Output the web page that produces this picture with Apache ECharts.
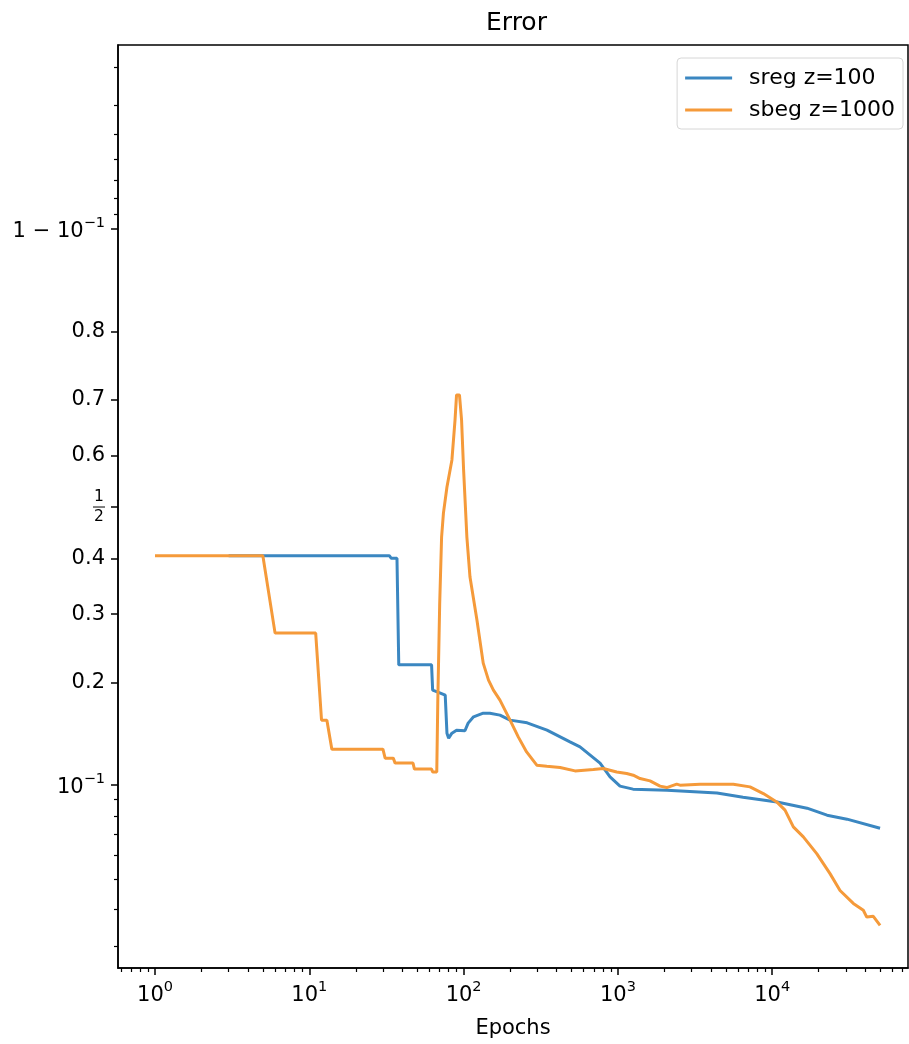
<!DOCTYPE html>
<html>
<head>
<meta charset="utf-8">
<script src="https://cdn.jsdelivr.net/npm/echarts@6/dist/echarts.min.js"></script>
<style>
  html, body { margin: 0; padding: 0; background: #ffffff; }
  #chart { width: 909px; height: 1044px; }
</style>
</head>
<body>
<div id="chart"></div>
<script>
// Training error per epoch for the two runs
const epochsSreg = [3, 33, 34, 37, 38, 62, 63, 70, 76, 78, 80, 84, 90, 102, 107, 116, 134, 148, 172, 200,
  258, 347, 489, 568, 766, 889, 1032, 1253, 2081, 4389, 6469, 10743, 16810, 22660, 30530, 50000];
const errorSreg = [0.405, 0.405, 0.400, 0.400, 0.223, 0.223, 0.1903, 0.1871, 0.1843, 0.1433, 0.1385, 0.1433,
  0.1462, 0.1456, 0.1533, 0.1599, 0.1638, 0.1638, 0.1617, 0.1564, 0.1536, 0.1462, 0.1350, 0.1305, 0.1166,
  0.1058, 0.0991, 0.0970, 0.0963, 0.0944, 0.0916, 0.0885, 0.0846, 0.0804, 0.0781, 0.0731];

const epochsSbeg = [1, 5, 6, 11, 12, 13, 14, 30, 31, 35, 36, 47, 48, 62, 63, 67, 68, 70, 72, 74,
  78, 84, 88, 90, 94, 97, 100, 105, 110, 122, 134, 145, 156, 172, 200, 226, 256, 298, 346, 422,
  527, 693, 804, 982, 1140, 1257, 1391, 1615, 1875, 2072, 2405, 2527, 3405, 5596, 7180, 8757, 10695, 12105,
  13704, 15910, 19430, 23690, 27510, 33540, 38950, 40990, 45210, 50000];
const errorSbeg = [0.405, 0.405, 0.2695, 0.2695, 0.1564, 0.1564, 0.1284, 0.1284, 0.1207, 0.1207,
  0.1166, 0.1166, 0.1118, 0.1118, 0.1096, 0.1096, 0.175, 0.3187, 0.4409, 0.488,
  0.5394, 0.5919, 0.6656, 0.7081, 0.7081, 0.6656, 0.5727, 0.4409, 0.365, 0.2903,
  0.2254, 0.2028, 0.1903, 0.1784, 0.1564, 0.1397, 0.126, 0.1149, 0.1141, 0.1131,
  0.1104, 0.1115, 0.1123, 0.1096, 0.1084, 0.1071, 0.1046, 0.1029, 0.0991, 0.0981,
  0.1005, 0.0998, 0.1005, 0.1005, 0.0986, 0.094, 0.0885, 0.0834, 0.0738, 0.0686,
  0.0606, 0.0522, 0.046, 0.0417, 0.0396, 0.0376, 0.0378, 0.0353];

const seriesNames = ['sreg z=100', 'sbeg z=1000'];
const seriesColors = ['#3b87c1', '#f59a3a'];

// Logit-scale y ticks (probabilities) and their labels
const yMajorTicks = [0.1, 0.2, 0.3, 0.4, 0.5, 0.6, 0.7, 0.8, 0.9];
const yMajorLabels = ['{b|10}{s|−1}', '{p|0.2}', '{p|0.3}', '{p|0.4}', '{f|1}\n{bar|}\n{f|2}',
  '{p|0.6}', '{p|0.7}', '{p|0.8}', '{b|1 − 10}{s|−1}'];
const yMinorTicks = [0.03, 0.04, 0.05, 0.06, 0.07, 0.08, 0.09, 0.91, 0.92, 0.93, 0.94, 0.95, 0.96, 0.97];
const yRange = [0.02545, 0.97475];

// Log-scale x ticks (epochs)
const xMajorExponents = [0, 1, 2, 3, 4];
const xRange = [0.5757, 75860];

const logit = p => Math.log10(p / (1 - p));
const lg = v => Math.log10(v);

const xMinorTicks = [];
for (let d = -1; d <= 4; d++) {
  for (let k = 2; k <= 9; k++) {
    const v = k * Math.pow(10, d);
    if (v > xRange[0] && v < xRange[1]) xMinorTicks.push(lg(v));
  }
}

const toPairs = (xs, ys) => xs.map((e, i) => [lg(e), logit(ys[i])]);

const FONT = 'DejaVu Sans';
const richText = {
  p: { fontSize: 21, fontFamily: FONT, color: '#000' },
  b: { fontSize: 21, fontFamily: FONT, color: '#000', verticalAlign: 'bottom', lineHeight: 26 },
  s: { fontSize: 14.5, fontFamily: FONT, color: '#000', verticalAlign: 'top', lineHeight: 26, padding: [0, 0, 10, 0] },
  f: { fontSize: 15.5, fontFamily: FONT, color: '#000', width: 12, align: 'center', lineHeight: 14 },
  bar: { width: 12, height: 1, backgroundColor: '#000', lineHeight: 6 }
};

const yMajorVals = yMajorTicks.map(logit);
const nearestIndex = (arr, v) => {
  let best = 0;
  arr.forEach((a, i) => { if (Math.abs(a - v) < Math.abs(arr[best] - v)) best = i; });
  return best;
};

const chart = echarts.init(document.getElementById('chart'), null, { renderer: 'canvas' });

chart.setOption({
  animation: false,
  backgroundColor: '#ffffff',
  title: {
    text: 'Error',
    left: 486,
    top: 11,
    padding: 0,
    textStyle: { fontFamily: FONT, fontSize: 25, fontWeight: 'normal', color: '#000' }
  },
  legend: {
    data: seriesNames,
    orient: 'vertical',
    right: 6,
    top: 58,
    align: 'left',
    icon: 'rect',
    itemWidth: 47,
    itemHeight: 3,
    itemGap: 10,
    padding: [9, 8, 8, 8],
    backgroundColor: 'rgba(255,255,255,0.8)',
    borderColor: '#d6d6d6',
    borderWidth: 1,
    borderRadius: 4,
    textStyle: { fontFamily: FONT, fontSize: 22, color: '#000', padding: [0, 0, 0, 12] }
  },
  grid: {
    left: 118, right: 1, top: 45, bottom: 76,
    show: true, borderColor: '#000', borderWidth: 1.5, backgroundColor: 'transparent'
  },
  xAxis: [
    {
      type: 'value',
      min: lg(xRange[0]),
      max: lg(xRange[1]),
      name: 'Epochs',
      nameLocation: 'middle',
      nameGap: 50,
      nameTextStyle: { fontFamily: FONT, fontSize: 21, color: '#000' },
      axisLine: { show: true, onZero: false, lineStyle: { color: '#000', width: 1.5 } },
      splitLine: { show: false },
      axisTick: { show: true, length: 7, lineStyle: { color: '#000', width: 1.5 }, customValues: xMajorExponents },
      axisLabel: {
        show: true,
        margin: 12,
        customValues: xMajorExponents,
        formatter: v => '{b|10}{s|' + Math.round(v) + '}',
        rich: richText
      }
    },
    {
      type: 'value',
      position: 'bottom',
      min: lg(xRange[0]),
      max: lg(xRange[1]),
      axisLine: { show: false, onZero: false },
      splitLine: { show: false },
      axisTick: { show: true, length: 4, lineStyle: { color: '#000', width: 1.2 }, customValues: xMinorTicks },
      axisLabel: { show: false }
    }
  ],
  yAxis: [
    {
      type: 'value',
      min: logit(yRange[0]),
      max: logit(yRange[1]),
      axisLine: { show: true, onZero: false, lineStyle: { color: '#000', width: 1.5 } },
      splitLine: { show: false },
      axisTick: { show: true, length: 7, lineStyle: { color: '#000', width: 1.5 }, customValues: yMajorVals },
      axisLabel: {
        show: true,
        margin: 13,
        customValues: yMajorVals,
        formatter: v => yMajorLabels[nearestIndex(yMajorVals, v)],
        rich: richText
      }
    },
    {
      type: 'value',
      position: 'left',
      min: logit(yRange[0]),
      max: logit(yRange[1]),
      axisLine: { show: false, onZero: false },
      splitLine: { show: false },
      axisTick: { show: true, length: 4, lineStyle: { color: '#000', width: 1.2 }, customValues: yMinorTicks.map(logit) },
      axisLabel: { show: false }
    }
  ],
  series: [
    {
      name: seriesNames[0],
      type: 'line',
      xAxisIndex: 0, yAxisIndex: 0,
      data: toPairs(epochsSreg, errorSreg),
      symbol: 'none',
      lineStyle: { color: seriesColors[0], width: 3 },
      itemStyle: { color: seriesColors[0] },
      z: 2
    },
    {
      name: seriesNames[1],
      type: 'line',
      xAxisIndex: 0, yAxisIndex: 0,
      data: toPairs(epochsSbeg, errorSbeg),
      symbol: 'none',
      lineStyle: { color: seriesColors[1], width: 3 },
      itemStyle: { color: seriesColors[1] },
      z: 3
    }
  ]
});
</script>
</body>
</html>
